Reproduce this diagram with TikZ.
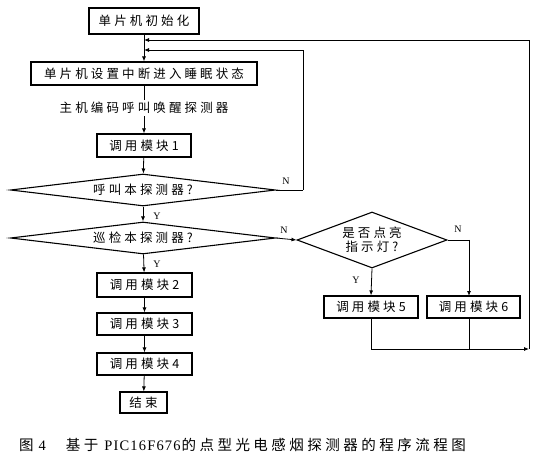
\documentclass[tikz,border=0pt]{standalone}
\usepackage{fontspec}
\setmainfont{Liberation Serif}
\newfontfamily\cjk[LetterSpace=25]{Noto Sans CJK SC}
\newfontfamily\cjkcap[LetterSpace=24]{Noto Sans CJK SC}
\newfontfamily\capserif[LetterSpace=8]{Liberation Serif}
\usetikzlibrary{shapes.geometric,arrows.meta}
\begin{document}
\begin{tikzpicture}[x=1pt,y=-1pt,
  box/.style={draw, line width=1.1pt, inner sep=0pt, font=\cjk\fontsize{12.5}{14}\selectfont},
  dia/.style={draw, line width=1.1pt, diamond, inner sep=0pt, font=\cjk\fontsize{12.5}{14}\selectfont},
  conn/.style={line width=0.8pt},
  arr/.style={line width=0.8pt, -{Latex[length=5pt,width=4pt]}},
  lab/.style={font=\fontsize{10}{11}\selectfont, inner sep=1pt}]
\useasboundingbox (0,0) rectangle (541,473);
% main column
\node[box, minimum width=110pt, minimum height=26pt] (init) at (144,21) {单片机初始化};
\node[box, minimum width=226pt, minimum height=23pt] (sleep) at (144,73.5) {单片机设置中断进入睡眠状态};
\node[box, minimum width=94pt, minimum height=23pt] (m1) at (144,145.5) {调用模块1};
\node[dia, aspect=8.28, minimum width=265pt, minimum height=32pt] (d1) at (143,190) {呼叫本探测器?};
\node[dia, aspect=8.28, minimum width=265pt, minimum height=32pt] (d2) at (143,238) {巡检本探测器?};
\node[box, minimum width=95pt, minimum height=24pt] (m2) at (144.5,285) {调用模块2};
\node[box, minimum width=95pt, minimum height=22pt] (m3) at (144.5,324) {调用模块3};
\node[box, minimum width=95pt, minimum height=22pt] (m4) at (144.5,364) {调用模块4};
\node[box, minimum width=47pt, minimum height=21pt] (end) at (143.5,402.5) {结束};
% right part
\node[dia, aspect=2.68, minimum width=150pt, minimum height=56pt, align=center] (d3) at (372,240) {是否点亮\\指示灯?};
\node[box, minimum width=94pt, minimum height=22pt] (m5) at (371,307) {调用模块5};
\node[box, minimum width=93pt, minimum height=22pt] (m6) at (473.5,307) {调用模块6};
% coordinates
\coordinate (j0) at (144,40);
\coordinate (j1) at (144,50);
\coordinate (n1) at (303,190);
\coordinate (n3) at (469,240);
\coordinate (m6t) at (469,296);
\coordinate (m6b) at (469,318);
\coordinate (b6) at (469,349);
\coordinate (r1) at (529,349);
% connectors
\draw[arr] (init) -- (sleep);
\draw[arr] (sleep) -- (m1);
\node[fill=white, inner sep=2pt, font=\cjk\fontsize{12.5}{14}\selectfont] (call) at (144,108) {主机编码呼叫唤醒探测器};
\draw[arr] (m1) -- (d1);
\draw[arr] (d1) -- (d2);
\node[lab] (y1) at (157,216) {Y};
\draw[arr] (d2) -- (m2);
\node[lab] (y2) at (157,264) {Y};
\draw[arr] (m2) -- (m3);
\draw[arr] (m3) -- (m4);
\draw[arr] (m4) -- (end);
\draw[conn] (d1.east) -- (n1);
\draw[arr] (n1) |- (j1);
\node[lab] (nl1) at (286,181) {N};
\draw[arr] (d2.east) -- (d3.west);
\node[lab] (nl2) at (284,230) {N};
\draw[arr] (d3.south) -- (m5.north);
\node[lab] (y3) at (356,280) {Y};
\draw[conn] (d3.east) -- (n3);
\draw[arr] (n3) -- (m6t);
\node[lab] (nl3) at (458,229) {N};
\draw[conn] (m6b) -- (b6);
\draw[arr] (m5.south) |- (r1);
\draw[arr] (r1) |- (j0);
% caption
\node[anchor=west, inner sep=0pt, font=\cjkcap\fontsize{14.5}{16}\selectfont] (cap) at (19,445) {图\hspace{5pt}{\capserif 4}\hspace{20pt}基于\hspace{6pt}{\capserif PIC16F676}\hspace{1pt}的点型光电感烟探测器的程序流程图};
\end{tikzpicture}
\end{document}
